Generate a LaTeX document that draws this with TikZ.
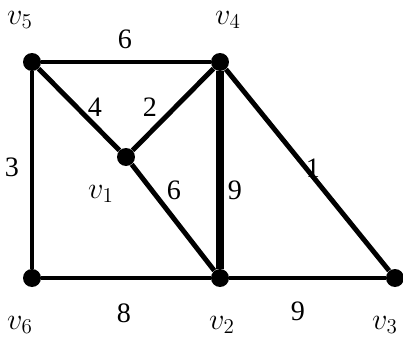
\documentclass[tikz,border=0pt]{standalone}
\usepackage{fontspec}
\setmainfont{Liberation Serif}
\usetikzlibrary{positioning}
\tikzset{
vertex/.style={circle, fill=black, inner sep=0pt, minimum size=3.6mm},
edge/.style={line width=2.8pt, draw=black},
edgethin/.style={line width=2.3pt, draw=black},
edgethick/.style={line width=4.3pt, draw=black},
wlabel/.style={font=\fontsize{16}{18}\selectfont, inner sep=1pt},
vlabel/.style={font=\fontsize{17}{19}\selectfont, inner sep=1pt}
}
\begin{document}
\begin{tikzpicture}[x=0.02cm, y=-0.02cm]
\useasboundingbox (0,0) rectangle (403,345);

\node[vertex] (v5) at (32,62) {};
\node[vertex] (v4) at (220,62) {};
\node[vertex] (v1) at (126,157) {};
\node[vertex] (v6) at (32,278) {};
\node[vertex] (v2) at (220,278) {};
\node[vertex] (v3) at (395,278) {};

\draw[edgethin] (v5) -- (v4);
\draw[edge] (v5) -- (v6);
\draw[edge] (v5) -- (v1);
\draw[edge] (v1) -- (v4);
\draw[edge] (v1) -- (v2);
\draw[edgethick] (v4) -- (v2);
\draw[edge] (v4) -- (v3);
\draw[edgethin] (v6) -- (v2);
\draw[edgethin] (v2) -- (v3);

% vertex names
\node[vlabel] (n5) at (20,20) {$v_5$};
\node[vlabel] (n4) at (228,20) {$v_4$};
\node[vlabel] (n1) at (101,194) {$v_1$};
\node[vlabel] (n6) at (20,325) {$v_6$};
\node[vlabel] (n2) at (222,325) {$v_2$};
\node[vlabel] (n3) at (385,325) {$v_3$};

% weights
\node[wlabel] (w54) at (125,39) {6};
\node[wlabel] (w51) at (95,107) {4};
\node[wlabel] (w14) at (150,107) {2};
\node[wlabel] (w56) at (12,167) {3};
\node[wlabel] (w12) at (174,190) {6};
\node[wlabel] (w42) at (235,190) {9};
\node[wlabel] (w43) at (313,168) {1};
\node[wlabel] (w62) at (124,313) {8};
\node[wlabel] (w23) at (298,311) {9};
\end{tikzpicture}
\end{document}
